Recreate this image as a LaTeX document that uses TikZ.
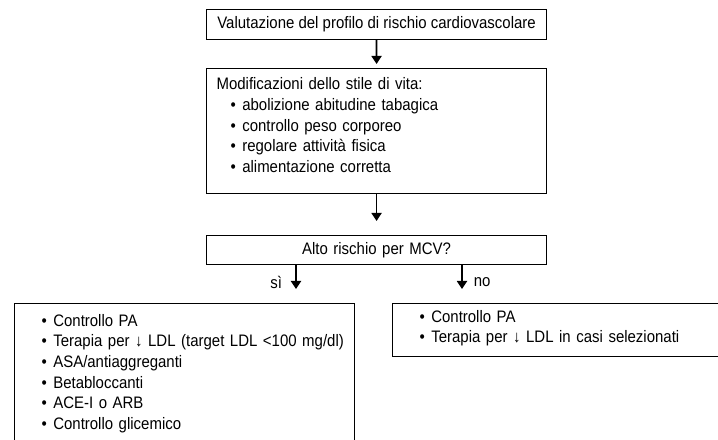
\documentclass[tikz,border=0pt]{standalone}
\usepackage{fontspec}
\setmainfont{Liberation Sans}[FakeStretch=0.9]
\usepackage{tikz}
\usetikzlibrary{positioning, arrows.meta, calc}

\newcommand{\punto}[1][17bp]{\hspace*{#1}\textbullet\hspace{6.5bp}}

\begin{document}
\begin{tikzpicture}[x=1bp, y=-1bp,
    box/.style={draw, line width=1.1bp, anchor=north west, inner ysep=0pt,
      font=\fontsize{16.7}{20.8}\selectfont},
    freccia/.style={line width=1.8bp, -{Triangle[width=10bp, length=8bp]}},
    etichetta/.style={font=\fontsize{16.7}{20}\selectfont, inner sep=0pt}]
  \useasboundingbox (0,0) rectangle (718,440);

  \node[box, align=center, minimum width=340bp, minimum height=30bp]
    (valutazione) at (206,9) {Valutazione del profilo di rischio cardiovascolare};

  \node[box, align=left, inner xsep=10bp, text width=320bp, minimum height=125bp]
    (stile) at (206,68) {%
      Modificazioni dello stile di vita:\\
      \punto[14bp]abolizione abitudine tabagica\\
      \punto[14bp]controllo peso corporeo\\
      \punto[14bp]regolare attività fisica\\
      \punto[14bp]alimentazione corretta\rule[-12bp]{0pt}{0pt}};

  \node[box, align=left, inner xsep=10bp, text width=320bp, minimum height=29bp,
    align=center] (rischio) at (206,235) {Alto rischio per MCV?};

  \node[box, align=left, inner xsep=5bp, text width=330bp, minimum height=140bp]
    (terapiaSi) at (14,303) {%
      \punto[22bp]Controllo PA\\
      \punto[22bp]Terapia per ↓ LDL (target LDL <100 mg/dl)\\
      \punto[22bp]ASA/antiaggreganti\\
      \punto[22bp]Betabloccanti\\
      \punto[22bp]ACE-I o ARB\\
      \punto[22bp]Controllo glicemico};

  \node[box, align=left, inner xsep=10bp, text width=308bp, minimum height=53bp]
    (terapiaNo) at (392,303) {%
      \punto Controllo PA\\
      \punto Terapia per ↓ LDL in casi selezionati\rule[-7bp]{0pt}{0pt}};

  % frecce
  \coordinate (fineSi) at (296,289);
  \coordinate (fineNo) at (462,289);
  \draw[freccia, shorten >=4bp] (valutazione) -- (stile);
  \draw[freccia, shorten >=14bp] (stile) -- (rischio);
  \draw[freccia] (rischio.south -| fineSi) -- node[etichetta, pos=0.72, left=13bp] {sì} (fineSi);
  \draw[freccia] (rischio.south -| fineNo) -- node[etichetta, pos=0.72, right=11bp] {no} (fineNo);
\end{tikzpicture}
\end{document}
